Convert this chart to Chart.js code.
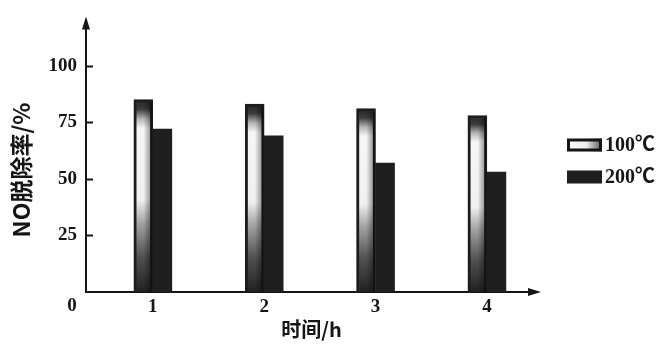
<!DOCTYPE html>
<html>
<head>
<meta charset="utf-8">
<script src="https://cdn.jsdelivr.net/npm/chart.js@4/dist/chart.umd.min.js"></script>
<style>
  html, body { margin: 0; padding: 0; background: #fff; }
  #wrap { width: 666px; height: 346px; }
</style>
</head>
<body>
<div id="wrap"><canvas id="c" width="666" height="346"></canvas></div>
<script>
// NO removal rate over time at two temperatures
const hours = [1, 2, 3, 4];
const rate100 = [85, 83, 81, 78];
const rate200 = [72, 69, 57, 53];
const yTicks = [25, 50, 75, 100];
const seriesNames = ['100℃', '200℃'];
const yTitle = 'NO脱除率/%';
const xTitle = '时间/h';

const SERIF = "'Liberation Serif', 'Noto Sans CJK SC', serif";
const CJK = "'Noto Sans CJK SC', 'Liberation Serif', sans-serif";
const INK = '#151515';

// vertical shading of the light bars: dark cap, bright body, darkening toward the base
function lightBarFill(ctx) {
  const chart = ctx.chart;
  if (!chart.chartArea || !ctx.parsed) return '#e8e8e8';
  const ys = chart.scales.y;
  const top = ys.getPixelForValue(ctx.parsed.y);
  const base = ys.getPixelForValue(0);
  const g = chart.ctx.createLinearGradient(0, top, 0, base);
  g.addColorStop(0, '#262626');
  g.addColorStop(0.05, '#3c3c3c');
  g.addColorStop(0.1, '#b5b5b5');
  g.addColorStop(0.15, '#f6f6f6');
  g.addColorStop(0.52, '#f0f0f0');
  g.addColorStop(0.64, '#a5a5a5');
  g.addColorStop(0.82, '#505050');
  g.addColorStop(1, '#222222');
  return g;
}

const decorations = {
  id: 'decorations',
  afterDatasetsDraw(chart) {
    const c = chart.ctx;
    // side shading on the light bars (right part darker)
    const meta = chart.getDatasetMeta(0);
    meta.data.forEach(bar => {
      const p = bar.getProps(['x', 'y', 'base', 'width'], true);
      const l = p.x - p.width / 2 + 3, r = p.x + p.width / 2 - 1;
      const g = c.createLinearGradient(l, 0, r, 0);
      g.addColorStop(0, 'rgba(0,0,0,0)');
      g.addColorStop(0.45, 'rgba(0,0,0,0)');
      g.addColorStop(1, 'rgba(0,0,0,0.45)');
      c.save();
      c.fillStyle = g;
      c.fillRect(l, p.y + 3, r - l, p.base - p.y - 3);
      c.restore();
    });
  },
  afterDraw(chart) {
    const c = chart.ctx;
    const a = chart.chartArea;
    const ys = chart.scales.y;
    c.save();
    c.strokeStyle = INK;
    c.fillStyle = INK;
    c.lineWidth = 2;
    // inward tick marks on the value axis
    yTicks.forEach(v => {
      const py = Math.round(ys.getPixelForValue(v)) + 0.5;
      c.beginPath();
      c.moveTo(a.left, py);
      c.lineTo(a.left + 7, py);
      c.stroke();
    });
    // arrow heads
    c.beginPath();
    c.moveTo(a.left, a.top - 4);
    c.lineTo(a.left - 4, a.top + 9);
    c.lineTo(a.left + 4, a.top + 9);
    c.closePath();
    c.fill();
    c.beginPath();
    c.moveTo(a.right + 4, a.bottom);
    c.lineTo(a.right - 9, a.bottom - 4);
    c.lineTo(a.right - 9, a.bottom + 4);
    c.closePath();
    c.fill();
    // origin label
    c.font = 'bold 19px ' + SERIF;
    c.textAlign = 'center';
    c.textBaseline = 'middle';
    c.fillText('0', a.left - 14, a.bottom + 14);
    // rotated value-axis title
    c.save();
    c.translate(21, 170);
    c.rotate(-Math.PI / 2);
    c.font = 'bold 23px ' + CJK;
    c.fillText(yTitle, 0, 0);
    c.restore();
    // legend
    const lx = 567, bw = 35, bh = 13;
    const rows = [145, 177];
    rows.forEach((cy, i) => {
      const top = cy - bh / 2;
      if (i === 0) {
        const g = c.createLinearGradient(lx, 0, lx + bw, 0);
        g.addColorStop(0, '#fafafa');
        g.addColorStop(0.55, '#eeeeee');
        g.addColorStop(1, '#555555');
        c.fillStyle = g;
        c.fillRect(lx, top, bw, bh);
        c.lineWidth = 3;
        c.strokeStyle = INK;
        c.strokeRect(lx + 1.5, top + 1.5, bw - 3, bh - 3);
      } else {
        c.fillStyle = '#1f1f1f';
        c.fillRect(lx, top, bw, bh);
      }
      c.fillStyle = INK;
      c.font = 'bold 20px ' + SERIF;
      c.textAlign = 'left';
      c.fillText(seriesNames[i], lx + bw + 3, cy + 1);
    });
    c.restore();
  }
};

new Chart(document.getElementById('c'), {
  type: 'bar',
  data: {
    datasets: [
      {
        label: seriesNames[0],
        data: hours.map((h, i) => ({ x: h, y: rate100[i] })),
        backgroundColor: lightBarFill,
        borderColor: '#1c1c1c',
        borderWidth: 3,
        borderSkipped: 'bottom',
        barThickness: 19
      },
      {
        label: seriesNames[1],
        data: hours.map((h, i) => ({ x: h, y: rate200[i] })),
        backgroundColor: '#1f1f1f',
        borderWidth: 0,
        barThickness: 19
      }
    ]
  },
  options: {
    responsive: false,
    animation: false,
    events: [],
    layout: { padding: { left: 0, top: 14, right: 129, bottom: 1 } },
    plugins: {
      legend: { display: false },
      tooltip: { enabled: false }
    },
    scales: {
      x: {
        type: 'linear',
        min: 0.4,
        max: 4.45,
        offset: false,
        grid: { display: false, drawTicks: false },
        border: { display: true, color: INK, width: 2 },
        afterBuildTicks: s => { s.ticks = hours.map(v => ({ value: v })); },
        afterFit: s => { s.height = 53; },
        ticks: {
          padding: 4,
          color: INK,
          font: { family: SERIF, size: 19, weight: 'bold' },
          callback: v => String(v)
        },
        title: {
          display: true,
          text: xTitle,
          color: INK,
          font: { family: CJK, size: 20, weight: 'bold' }
        }
      },
      y: {
        min: 0,
        max: 120,
        grid: { display: false, drawTicks: false },
        border: { display: true, color: INK, width: 2 },
        afterBuildTicks: s => { s.ticks = yTicks.map(v => ({ value: v })); },
        afterFit: s => { s.width = 86; },
        ticks: {
          padding: 9,
          color: INK,
          font: { family: SERIF, size: 19, weight: 'bold' }
        }
      }
    }
  },
  plugins: [decorations]
});
</script>
</body>
</html>
